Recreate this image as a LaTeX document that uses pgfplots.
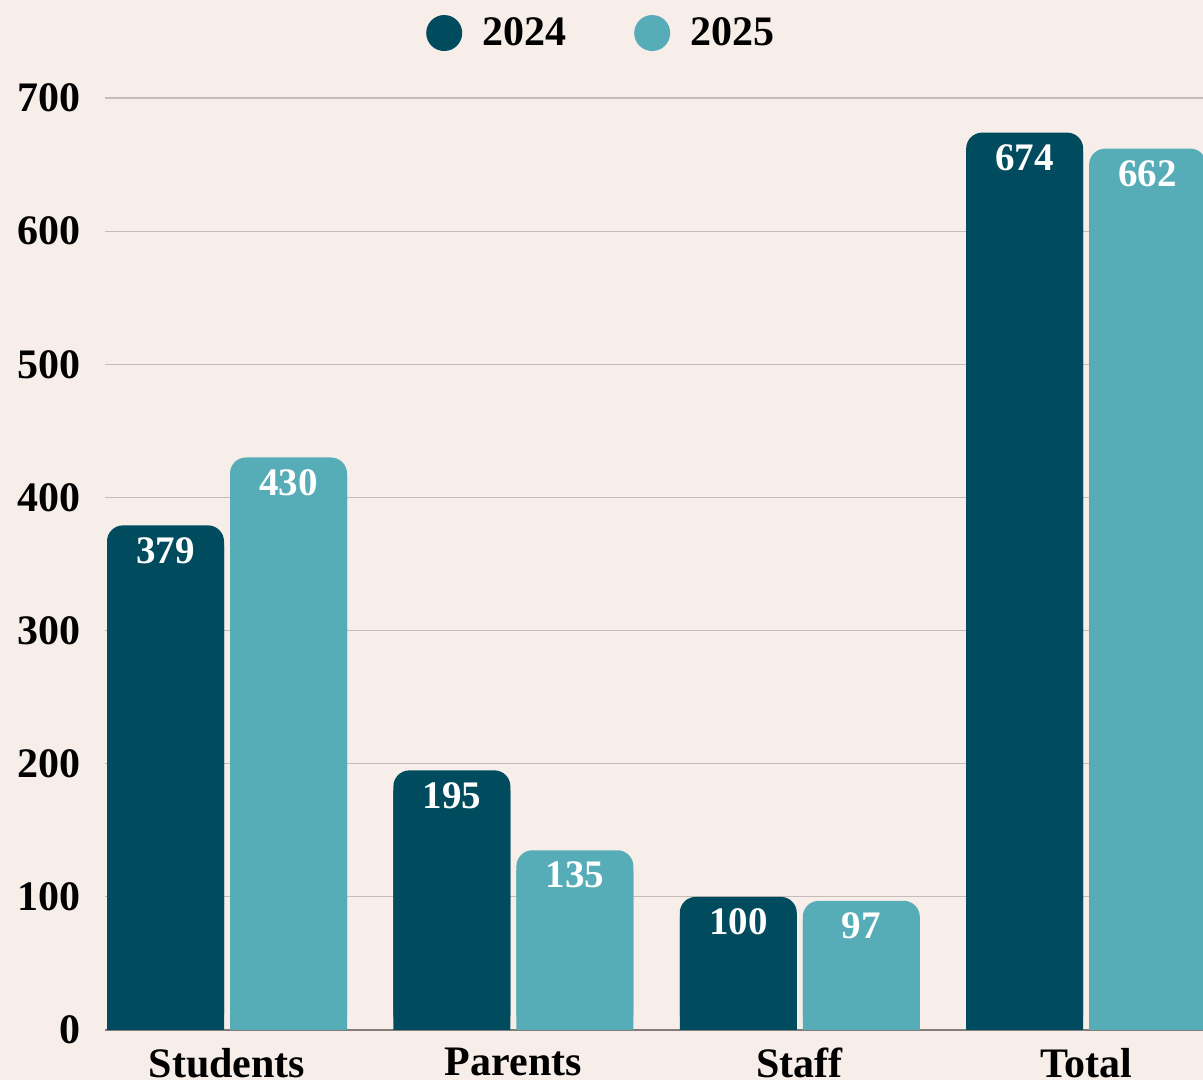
\documentclass[border=0pt]{standalone}
\usepackage{fontspec}
\setmainfont{Liberation Serif}
\usepackage{pgfplots}
\usepackage{pgfplotstable}
\pgfplotsset{compat=1.18}
\definecolor{bg}{HTML}{F7EEE9}
\definecolor{cA}{HTML}{004C5E}
\definecolor{cB}{HTML}{56ADB8}
\definecolor{gridc}{HTML}{C6BCB8}
\definecolor{axc}{HTML}{857B78}

\pgfplotstableread{
x a b
0 379 430
1 195 135
2 100 97
3 674 662
}\datatable

\begin{document}
\begin{tikzpicture}
\fill[bg] (-52.5pt,-25pt) rectangle (549pt,515pt);
\begin{axis}[
  at={(0,0)}, anchor=south west,
  width=549pt, height=466pt, scale only axis,
  xmin=-0.426, xmax=3.408, ymin=0, ymax=700,
  enlargelimits=false,
  axis x line*=bottom, axis y line*=left,
  y axis line style={draw=none},
  x axis line style={draw=axc, line width=0.8pt},
  ytick={0,100,...,700},
  xtick={0,1,2,3},
  xticklabels={Students,Parents,Staff,Total},
  ymajorgrids, grid style={draw=gridc, line width=0.6pt},
  major tick length=0pt,
  tick label style={font=\fontsize{21}{24}\selectfont\bfseries},
  yticklabel style={anchor=east, inner sep=0pt, xshift=-12pt},
  xticklabel style={anchor=north, inner sep=0pt, yshift=-9pt},
  /pgf/number format/assume math mode=true,
  clip=true,
  legend style={at={(0.451,1.0697)}, anchor=center, draw=none, fill=none,
    legend columns=2, inner sep=0pt,
    font=\fontsize{21}{24}\selectfont\bfseries,
    nodes={inner sep=0pt},
    /tikz/every odd column/.append style={column sep=10pt},
    /tikz/every even column/.append style={column sep=34pt}},
]
\addplot[ybar, bar width=58.5pt, bar shift=-30.75pt, fill=cA, draw=none, rounded corners=8pt, forget plot] table[x=x,y=a]{\datatable};
\addplot[ybar, bar width=58.5pt, bar shift=30.75pt, fill=cB, draw=none, rounded corners=8pt, forget plot] table[x=x,y=b]{\datatable};
\addplot[ybar, bar width=58.5pt, bar shift=-30.75pt, fill=cA, draw=none,
  point meta=explicit, nodes near coords,
  nodes near coords style={anchor=center, xshift=-30.75pt, yshift=-2.5pt, text=white, font=\fontsize{19.5}{22}\selectfont\bfseries},
  legend image code/.code={\fill[cA] (9pt,0pt) circle (9pt);}]
  table[x=x, y expr=\thisrow{a}-15, meta=a]{\datatable};
\addlegendentry{2024}
\addplot[ybar, bar width=58.5pt, bar shift=30.75pt, fill=cB, draw=none,
  point meta=explicit, nodes near coords,
  nodes near coords style={anchor=center, xshift=30.75pt, yshift=-2.5pt, text=white, font=\fontsize{19.5}{22}\selectfont\bfseries},
  legend image code/.code={\fill[cB] (9pt,0pt) circle (9pt);}]
  table[x=x, y expr=\thisrow{b}-15, meta=b]{\datatable};
\addlegendentry{2025}
\end{axis}
\pgfresetboundingbox
\useasboundingbox (-52.5pt,-25pt) rectangle (549pt,515pt);
\end{tikzpicture}
\end{document}
